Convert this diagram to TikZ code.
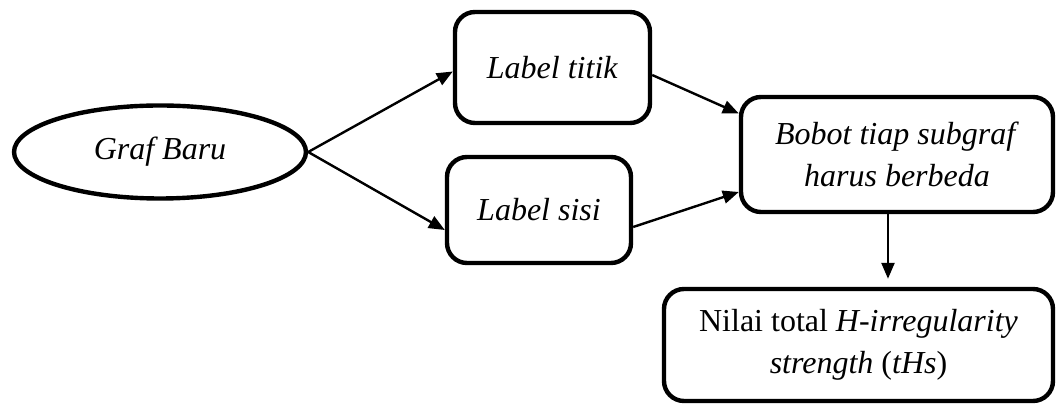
\documentclass[tikz,border=0pt]{standalone}
\usepackage{fontspec}
\setmainfont{Liberation Serif}
\usetikzlibrary{arrows.meta,shapes.geometric,positioning}
\tikzset{
  box/.style={draw,line width=2.2pt,rounded corners=10pt,align=center,inner sep=2pt},
  oval/.style={draw,ellipse,line width=2.2pt,inner sep=0pt},
  flow/.style={line width=1.2pt,-{Triangle[length=8pt,width=6.5pt]}}
}

\begin{document}
\begin{tikzpicture}[x=0.5pt,y=-0.5pt,font=\fontsize{16}{20.8}\selectfont]
    % frame of the picture
    \useasboundingbox (0,0) rectangle (1057,405);

    % the nodes
    \node [oval, minimum width=146pt, minimum height=46.5pt] (graf) at (160,152) {\textit{Graf Baru}};
    \node [box, minimum width=97.5pt, minimum height=55.5pt] (titik) at (552.5,67.5) {\textit{Label titik}};
    \node [box, minimum width=92pt, minimum height=53pt] (sisi) at (539,210) {\textit{Label sisi}};
    \node [box, minimum width=156pt, minimum height=57.5pt] (bobot) at (897,154.5)
      {\textit{Bobot tiap subgraf}\\\textit{harus berbeda}};
    \node [box, minimum width=194.5pt, minimum height=56pt] (nilai) at (858.5,345)
      {Nilai total \textit{H-irregularity}\\\textit{strength} (\textit{tHs})};

    % the arrows
    \draw [flow] (graf.east) -- ([yshift=-2pt]titik.west);
    \draw [flow] (graf.east) -- ([yshift=-10pt]sisi.west);
    \draw [flow] ([yshift=-3.75pt]titik.east) -- ([yshift=20.5pt]bobot.west);
    \draw [flow] ([yshift=-8.5pt]sisi.east) -- ([yshift=-18.75pt]bobot.west);
    \draw [flow, shorten >=4pt] ([xshift=-4.5pt]bobot.south) -- ([xshift=-4.5pt]bobot.south |- nilai.north);
\end{tikzpicture}
\end{document}
